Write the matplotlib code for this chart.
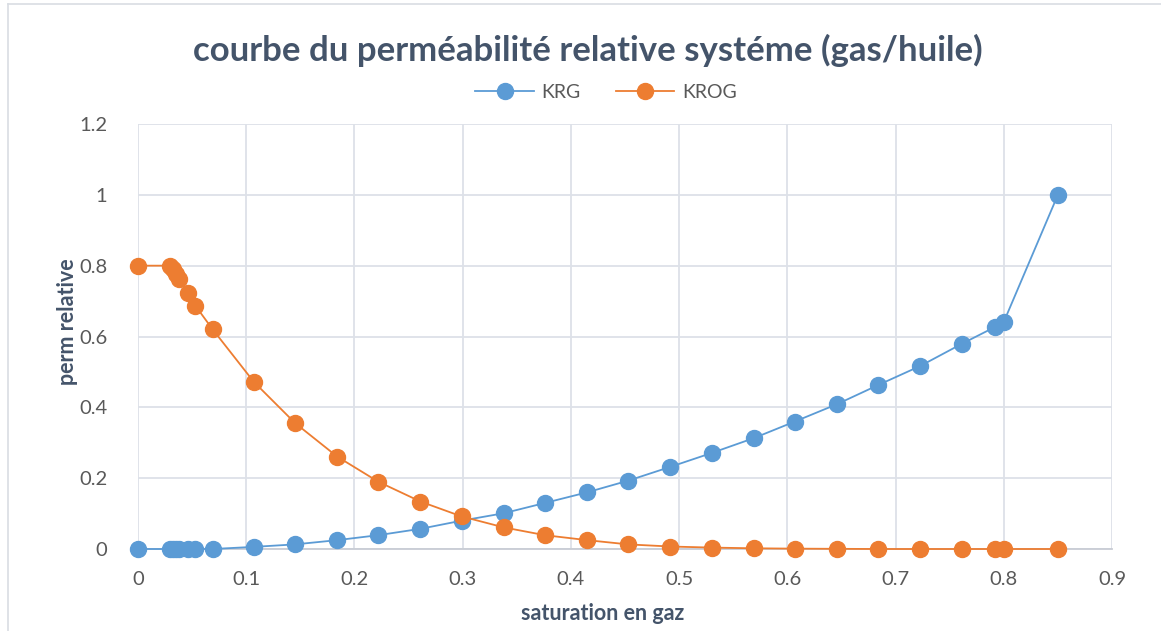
import matplotlib
matplotlib.use("Agg")
import matplotlib.pyplot as plt
from matplotlib.lines import Line2D

# Gas saturation and relative permeabilities (gas / oil system)
sg = [0, 0.030, 0.032, 0.035, 0.038, 0.046, 0.053, 0.069, 0.107, 0.145,
      0.184, 0.222, 0.261, 0.299, 0.338, 0.376, 0.415, 0.453, 0.492, 0.530,
      0.569, 0.607, 0.646, 0.684, 0.723, 0.761, 0.792, 0.800, 0.850]
krg = [0, 0, 0, 0, 0, 0, 0, 0, 0.006, 0.013,
       0.025, 0.039, 0.057, 0.080, 0.101, 0.130, 0.160, 0.193, 0.232, 0.271,
       0.313, 0.360, 0.409, 0.463, 0.517, 0.579, 0.627, 0.641, 1.0]
krog = [0.8, 0.8, 0.79, 0.776, 0.762, 0.724, 0.687, 0.620, 0.472, 0.356,
        0.261, 0.190, 0.134, 0.092, 0.061, 0.039, 0.025, 0.013, 0.007, 0.004,
        0.002, 0.001, 0.0005, 0, 0, 0, 0, 0, 0]

series_names = ["KRG", "KROG"]
colors = ["#5b9bd5", "#ed7d31"]
title = "courbe du perméabilité relative systéme (gas/huile)"
xlabel = "saturation en gaz"
ylabel = "perm relative"
xticks = [0, 0.1, 0.2, 0.3, 0.4, 0.5, 0.6, 0.7, 0.8, 0.9]
yticks = [0, 0.2, 0.4, 0.6, 0.8, 1.0, 1.2]

plt.rcParams["font.family"] = ["Lato", "DejaVu Sans"]

W, H = 1161, 631
fig = plt.figure(figsize=(W / 100, H / 100), dpi=100)
ax = fig.add_axes([138 / W, 1 - 549 / H, (1112 - 138) / W, (549 - 124) / H])

for y, name, c in zip([krg, krog], series_names, colors):
    ax.plot(sg, y, color=c, lw=1.3, marker="o", ms=11.5,
            markerfacecolor=c, markeredgecolor=c, label=name, zorder=3,
            clip_on=False)

ax.set_xlim(0, 0.9)
ax.set_ylim(0, 1.2)
ax.set_xticks(xticks)
ax.set_yticks(yticks)
ax.set_xticklabels(["0" if v == 0 else f"{v:g}" for v in xticks])
ax.set_yticklabels(["0" if v == 0 else ("1" if v == 1 else f"{v:g}") for v in yticks])
ax.grid(True, color="#dde1e8", lw=1.3, zorder=0)
ax.set_axisbelow(True)
for s in ["top", "right", "left"]:
    ax.spines[s].set_visible(False)
ax.spines["bottom"].set_color("#c8ccd4")
ax.spines["bottom"].set_linewidth(1.3)
ax.tick_params(length=0, labelsize=14.5, labelcolor="#595959")
ax.tick_params(axis="x", pad=16)
ax.tick_params(axis="y", pad=22)

ax.set_xlabel(xlabel, fontsize=15.5, fontweight="bold", color="#44546a")
ax.set_ylabel(ylabel, fontsize=15.5, fontweight="bold", color="#44546a")
ax.xaxis.set_label_coords(0.477, -0.127)
ax.yaxis.set_label_coords(-0.062, 0.534)

fig.text(588 / W, 1 - 50 / H, title, ha="center", va="center",
         fontsize=25, fontweight="bold", color="#44546a")

handles = [Line2D([0], [0], color=c, lw=1.3, marker="o", ms=11.5) for c in colors]
fig.legend(handles, series_names, loc="center", bbox_to_anchor=(606 / W, 1 - 92 / H),
           ncol=2, frameon=False, fontsize=14, labelcolor="#595959",
           handlelength=3.0, columnspacing=1.8, handletextpad=0.4)

# thin chart-area frame lines
fig.add_artist(Line2D([8 / W, 8 / W], [0, 1 - 3.5 / H], color="#d9dde3", lw=1.2,
                      transform=fig.transFigure))
fig.add_artist(Line2D([8 / W, 1], [1 - 3.5 / H, 1 - 3.5 / H], color="#d9dde3", lw=1.2,
                      transform=fig.transFigure))

fig.savefig("out.png", dpi=100, facecolor="white")
